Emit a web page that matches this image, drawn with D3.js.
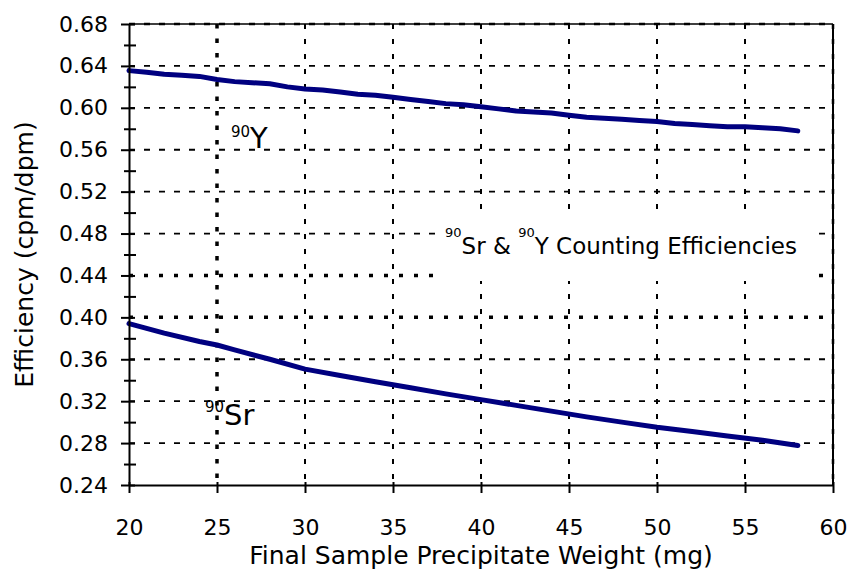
<!DOCTYPE html>
<html><head><meta charset="utf-8">
<script src="https://cdn.jsdelivr.net/npm/d3@7"></script>
<style>body{margin:0;background:#fff} svg{display:block} text{font-family:"DejaVu Sans",sans-serif;fill:#000}</style>
</head><body><svg id="c" width="849" height="570"></svg>
<script>
// 90Y efficiency vs weight (mg)
const yWeights = [20,21,22,23,24,25,26,27,28,29,30,31,32,33,34,35,36,37,38,39,40,41,42,43,44,45,46,47,48,49,50,51,52,53,54,55,56,57,58];
const yEff = [0.6355,0.634,0.632,0.631,0.630,0.627,0.625,0.624,0.623,0.620,0.618,0.617,0.615,0.613,0.612,0.610,0.608,0.606,0.604,0.603,0.601,0.599,0.597,0.596,0.595,0.593,0.591,0.590,0.589,0.588,0.587,0.585,0.584,0.583,0.582,0.582,0.581,0.580,0.578];
// 90Sr efficiency vs weight (mg)
const srWeights = [20,22,24,25,26,28,30,32,34,36,38,40,42,44,46,48,50,52,54,56,58];
const srEff = [0.394,0.385,0.377,0.3736,0.369,0.360,0.3506,0.3445,0.3385,0.3328,0.327,0.3215,0.316,0.3105,0.305,0.300,0.2951,0.291,0.2868,0.2828,0.2777];
const xTicks = [20,25,30,35,40,45,50,55,60];
const yTicks = [0.24,0.28,0.32,0.36,0.40,0.44,0.48,0.52,0.56,0.60,0.64,0.68];
const yMinorTicks = [0.26,0.30,0.34,0.38,0.42,0.46,0.50,0.54,0.58,0.62,0.66];
const heavyY = [0.40,0.44];
const heavyX = [25];

const L=129,R=833,T=24,B=485;
const x = d3.scaleLinear().domain([20,60]).range([L,R]);
const y = d3.scaleLinear().domain([0.24,0.68]).range([B,T]);
const svg = d3.select("#c");
const isHeavyY = d => heavyY.some(v=>Math.abs(v-d)<1e-9);
const isHeavyX = d => heavyX.some(v=>Math.abs(v-d)<1e-9);

// horizontal grid
svg.append("g").selectAll("line").data(yTicks.filter(v=>v>0.25)).join("line")
  .attr("x1",L).attr("x2",R).attr("y1",d=>y(d)).attr("y2",d=>y(d))
  .attr("stroke","#000")
  .attr("stroke-width",d=>isHeavyY(d)?3.5:(d>0.67?2.5:1.8))
  .attr("stroke-dasharray",d=>isHeavyY(d)?"4,11":"6,9");
// vertical grid
svg.append("g").selectAll("line").data(xTicks.filter(v=>v>20)).join("line")
  .attr("y1",T).attr("y2",B).attr("x1",d=>x(d)).attr("x2",d=>x(d))
  .attr("stroke","#000")
  .attr("stroke-width",d=>isHeavyX(d)?3.5:(d>59?2.5:2))
  .attr("stroke-dasharray",d=>isHeavyX(d)?"4.5,10":"5,10");
// borders top/right
svg.append("line").attr("x1",L).attr("x2",R).attr("y1",y(0.68)).attr("y2",y(0.68)).attr("stroke","#000").attr("stroke-width",1.5);
svg.append("line").attr("x1",x(60)).attr("x2",x(60)).attr("y1",T).attr("y2",B).attr("stroke","#000").attr("stroke-width",2);

// data lines
const line = d3.line().x(d=>x(d[0])).y(d=>y(d[1]));
svg.append("path").datum(yWeights.map((w,i)=>[w,yEff[i]])).attr("d",line)
  .attr("fill","none").attr("stroke","#000080").attr("stroke-width",5).attr("stroke-linecap","round").attr("stroke-linejoin","round");
svg.append("path").datum(srWeights.map((w,i)=>[w,srEff[i]])).attr("d",line)
  .attr("fill","none").attr("stroke","#000080").attr("stroke-width",5).attr("stroke-linecap","round").attr("stroke-linejoin","round");

// title box
svg.append("rect").attr("x",438).attr("y",215).attr("width",380).attr("height",66).attr("fill","#fff");
const title = svg.append("text").attr("x",445).attr("y",254).attr("font-size",23);
title.append("tspan").attr("font-size",13).attr("dy",-17).text("90");
title.append("tspan").attr("dy",17).text("Sr & ");
title.append("tspan").attr("font-size",13).attr("dy",-17).text("90");
title.append("tspan").attr("dy",17).text("Y Counting Efficiencies");

// axes
const ax = svg.append("g").attr("transform",`translate(${L},0)`)
  .call(d3.axisLeft(y).tickValues(yTicks).tickFormat(d3.format(".2f")).tickSizeInner(8).tickSizeOuter(0).tickPadding(13));
ax.selectAll(".tick line").attr("x1",6).attr("stroke-width",2);
ax.selectAll(".tick text").attr("font-size",22).attr("font-family","DejaVu Sans");
ax.select(".domain").attr("stroke-width",2);
const axm = svg.append("g").attr("transform",`translate(${L},0)`)
  .call(d3.axisLeft(y).tickValues(yMinorTicks).tickFormat("").tickSize(5));
axm.select(".domain").remove();
axm.selectAll(".tick line").attr("x1",7).attr("stroke-width",2);

const bx = svg.append("g").attr("transform",`translate(0,${B})`)
  .call(d3.axisBottom(x).tickValues(xTicks).tickFormat(d3.format("d")).tickSizeInner(8).tickSizeOuter(0));
bx.selectAll(".tick line").attr("y1",-3).attr("stroke-width",2);
bx.selectAll(".tick text").attr("font-size",22).attr("font-family","DejaVu Sans").attr("y",50).attr("dy",0);
bx.select(".domain").attr("stroke-width",2);

// axis titles
svg.append("text").attr("x",(L+R)/2).attr("y",564).attr("text-anchor","middle").attr("font-size",25)
  .text("Final Sample Precipitate Weight (mg)");
svg.append("text").attr("transform",`translate(33,${(T+B)/2}) rotate(-90)`).attr("text-anchor","middle").attr("font-size",25)
  .text("Efficiency (cpm/dpm)");

// series labels
const lY = svg.append("text").attr("x",231).attr("y",148).attr("font-size",29);
lY.append("tspan").attr("font-size",15).attr("dy",-11).text("90");
lY.append("tspan").attr("dy",11).text("Y");
const lS = svg.append("text").attr("x",205).attr("y",425).attr("font-size",29);
lS.append("tspan").attr("font-size",15).attr("dy",-13).text("90");
lS.append("tspan").attr("dy",13).text("Sr");
</script></body></html>
